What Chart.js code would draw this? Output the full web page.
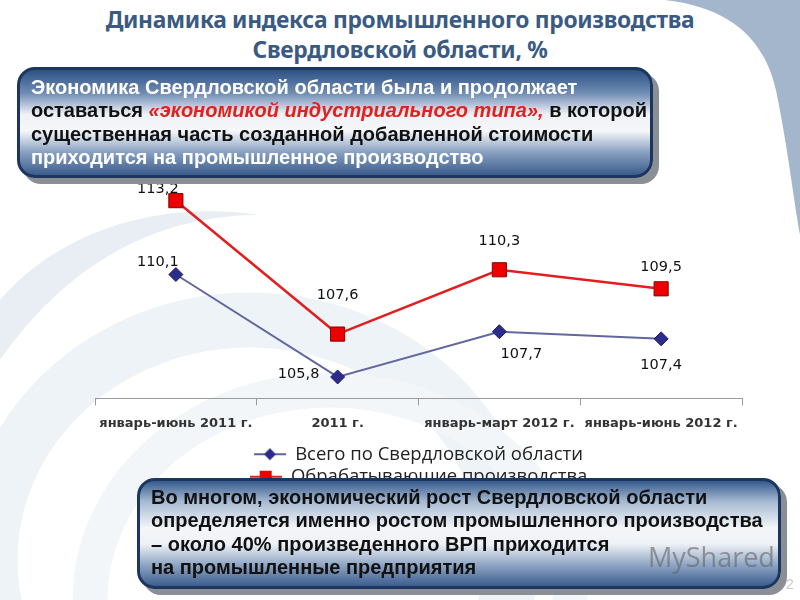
<!DOCTYPE html>
<html lang="ru">
<head>
<meta charset="utf-8">
<script src="https://cdn.jsdelivr.net/npm/chart.js@4/dist/chart.umd.min.js"></script>
<style>
  html, body { margin: 0; padding: 0; }
  body { width: 800px; height: 600px; position: relative; overflow: hidden; background: #fff; font-family: "Liberation Sans", Arial, sans-serif; }
  #bg { position: absolute; left: 0; top: 0; }
  #chartWrap { position: absolute; left: 0; top: 0; width: 800px; height: 600px; }
  .title { position: absolute; left: 0; width: 800px; text-align: center; color: #3a5a82; font-family: "Noto Sans", sans-serif; font-weight: bold; font-size: 22.8px; letter-spacing: -0.3px; }
  .box { position: absolute; border: 3px solid #1c3660; border-radius: 18px; box-shadow: 6px 6px 0 #8a8f96; box-sizing: border-box; font-weight: bold; font-size: 20px; line-height: 23.3px; color: #111; white-space: nowrap; }
  .box1 { left: 17px; top: 67px; width: 636px; height: 111px; padding: 6px 0 0 11px;
    background: linear-gradient(to bottom, #2d5285 0%, #6f8cb3 22%, #eef1f6 42%, #f6f7fa 58%, #8aa2c2 78%, #3a5b8c 100%); }
  .box2 { left: 137px; top: 478px; width: 644px; height: 111px; padding: 5px 0 0 11px;
    background: linear-gradient(to bottom, #355a8c 0%, #a8bbd3 20%, #f4f6f9 45%, #eef1f6 60%, #8ea5c4 80%, #3c5d8e 100%); }
  .w { color: #fff; }
  .red { color: #e3201b; font-style: italic; }
  .mark { position: absolute; left: 648px; top: 538px; font-family: "Open Sans", sans-serif; font-size: 27px; color: rgba(100,100,100,0.6); }
  .num { position: absolute; left: 786px; top: 576px; font-size: 14px; color: #c8c8c8; }
</style>
</head>
<body>
<svg id="bg" width="800" height="600">
  <path d="M665,0 C732,8 766,40 777,95 C788,150 793,195 800,235 L800,0 Z" fill="#a3b6cb"/>
  <ellipse cx="250" cy="560" rx="260" ry="240" fill="none" stroke="#eef3f7" stroke-width="55"/>
  <ellipse cx="330" cy="600" rx="240" ry="210" fill="none" stroke="#f3f6f9" stroke-width="35"/>
  <path d="M0,300 C60,230 160,200 260,215 C160,215 70,260 0,360 Z" fill="#e8eef3"/>
</svg>
<div class="title" style="top:4px;">Динамика индекса промышленного производства</div>
<div class="title" style="top:34px;">Свердловской области, %</div>
<div id="chartWrap"><canvas id="lineChart" width="800" height="600"></canvas></div>
<div class="box box1">
  <div class="w">Экономика Свердловской области была и продолжает</div>
  <div>оставаться <span class="red">«экономикой индустриального типа»,</span> в которой</div>
  <div>существенная часть созданной добавленной стоимости</div>
  <div class="w">приходится на промышленное производство</div>
</div>
<div class="box box2">
  <div>Во многом, экономический рост Свердловской области</div>
  <div>определяется именно ростом промышленного производства</div>
  <div>– около 40% произведенного ВРП приходится</div>
  <div>на промышленные предприятия</div>
</div>
<div class="mark">MyShared</div>
<div class="num">2</div>
<script>
const categories = ['январь-июнь 2011 г.', '2011 г.', 'январь-март 2012 г.', 'январь-июнь 2012 г.'];
const seriesNames = ['Всего по Свердловской области', 'Обрабатывающие производства'];
const totalValues = [110.1, 105.8, 107.7, 107.4];
const manufacturingValues = [113.2, 107.6, 110.3, 109.5];

// label offsets from each point, in px
const labelOffsets = [
    [[-18, -12], [-39, -3], [22, 23], [0, 26]],
    [[-18, -11], [0, -39], [0, -29], [0, -22]]
];

function legendIcon(lineColor, markColor, shape) {
    const c = document.createElement('canvas');
    c.width = 32; c.height = 14;
    const g = c.getContext('2d');
    g.strokeStyle = lineColor; g.lineWidth = 2;
    g.beginPath(); g.moveTo(0, 7); g.lineTo(32, 7); g.stroke();
    g.fillStyle = markColor;
    g.beginPath();
    if (shape === 'diamond') {
        g.moveTo(16, 1); g.lineTo(22, 7); g.lineTo(16, 13); g.lineTo(10, 7);
    } else {
        g.rect(10, 1, 12, 12);
    }
    g.fill();
    return c;
}

const valueLabels = {
    id: 'valueLabels',
    afterDatasetsDraw(chart) {
        const ctx = chart.ctx;
        ctx.save();
        ctx.font = '14.5px "DejaVu Sans", sans-serif';
        ctx.fillStyle = '#111';
        ctx.textAlign = 'center';
        ctx.textBaseline = 'middle';
        chart.data.datasets.forEach((ds, i) => {
            chart.getDatasetMeta(i).data.forEach((pt, j) => {
                const off = labelOffsets[i][j];
                ctx.fillText(ds.data[j].toFixed(1).replace('.', ','), pt.x + off[0], pt.y + off[1]);
            });
        });
        ctx.restore();
    }
};

const icons = [legendIcon('#5d629e', '#2c2c8c', 'diamond'), legendIcon('#e31e1e', '#ee0000', 'square')];

new Chart(document.getElementById('lineChart'), {
    type: 'line',
    data: {
        labels: categories,
        datasets: [{
            label: seriesNames[0],
            data: totalValues,
            borderColor: '#62679f',
            borderWidth: 2,
            pointStyle: 'rectRot',
            pointRadius: 7,
            pointHoverRadius: 7,
            pointBackgroundColor: '#2c2c8c',
            pointBorderColor: '#1e1e6a',
            pointBorderWidth: 1,
            tension: 0
        }, {
            label: seriesNames[1],
            data: manufacturingValues,
            borderColor: '#e31e1e',
            borderWidth: 2.5,
            pointStyle: 'rect',
            pointRadius: 10,
            pointHoverRadius: 10,
            pointBackgroundColor: '#ee0000',
            pointBorderColor: '#8a0000',
            pointBorderWidth: 1,
            tension: 0
        }]
    },
    options: {
        responsive: false,
        animation: false,
        layout: { padding: { left: 95, right: 58, top: 184, bottom: 104 } },
        scales: {
            x: {
                offset: true,
                grid: { offset: true, drawOnChartArea: false, drawTicks: true, tickLength: 7, color: '#9a9a9a' },
                border: { display: true, color: '#9a9a9a', width: 1 },
                ticks: { color: '#333', padding: 10, font: { family: 'DejaVu Sans', size: 13, weight: 'bold' } }
            },
            y: {
                display: false,
                min: 104.9,
                max: 113.9
            }
        },
        plugins: {
            legend: {
                position: 'bottom',
                labels: {
                    usePointStyle: true,
                    pointStyleWidth: 32,
                    padding: 4,
                    color: '#222',
                    font: { family: 'Open Sans', size: 18.5 },
                    generateLabels(chart) {
                        return chart.data.datasets.map((ds, i) => ({
                            text: ds.label,
                            pointStyle: icons[i],
                            fillStyle: ds.borderColor,
                            strokeStyle: ds.borderColor,
                            lineWidth: 0,
                            fontColor: '#222',
                            datasetIndex: i
                        }));
                    }
                }
            },
            tooltip: { enabled: false }
        }
    },
    plugins: [valueLabels]
});
</script>
</body>
</html>
